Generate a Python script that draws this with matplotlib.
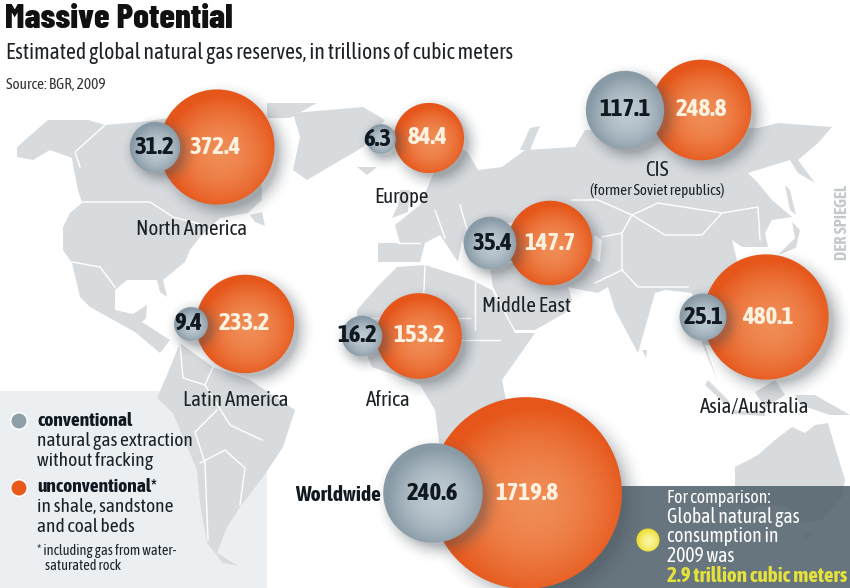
#!/usr/bin/python3
# -*- coding: utf-8 -*-
import numpy as np
import matplotlib
matplotlib.use('Agg')
import matplotlib.pyplot as pp
from matplotlib.patches import Polygon, Circle, Rectangle

pp.rcParams['font.family'] = ['Asap Condensed', 'Archivo Narrow', 'DejaVu Sans']

# data
regions = ['North America', 'Europe', 'CIS', 'Middle East', 'Latin America', 'Africa', 'Asia/Australia', 'Worldwide']
conventional = [31.2, 6.3, 117.1, 35.4, 9.4, 16.2, 25.1, 240.6]
unconventional = [372.4, 84.4, 248.8, 147.7, 233.2, 153.2, 480.1, 1719.8]

# layout, picture pixels
grey_xy = [(155, 147), (381, 139), (625, 110), (490, 243), (191, 324), (362, 336), (703, 317), (433, 493)]
orange_xy = [(217, 147), (429, 138), (701, 110), (550, 243), (245, 324), (419, 336), (766, 317), (526, 493)]
grey_text_x = [154, 377, 625, 493, 188, 357, 704, 432]
orange_text_x = [215, 428, 701, 550, 244, 419, 768, 527]
label_xy = [(192, 229), (401, 197), (657, 170), (527, 306), (236, 400), (388, 400), (755, 407), (381, 495)]

# map outlines
north_america = [(17, 147), (33, 133), (48, 120), (88, 120), (105, 125), (140, 122), (170, 118), (260, 150), (262, 200),
                 (248, 213), (220, 218), (200, 237), (190, 250), (185, 262), (163, 280), (167, 297), (160, 292), (157, 280),
                 (127, 280), (115, 290), (115, 310), (133, 314), (147, 305), (146, 318), (142, 322), (170, 340), (160, 353),
                 (135, 332), (90, 307), (80, 297), (72, 263), (63, 250), (63, 227), (70, 213), (82, 203), (78, 190), (73, 165),
                 (72, 158), (50, 150), (33, 160), (17, 157)]
arctic = [(267, 103), (317, 103), (290, 118), (267, 118)]
newfoundland = [(250, 215), (262, 212), (265, 226), (255, 222)]
greenland = [(293, 113), (363, 107), (385, 120), (363, 147), (307, 180), (293, 170), (300, 137)]
iceland = [(357, 167), (377, 167), (367, 175)]
south_america = [(180, 343), (213, 367), (250, 380), (295, 410), (283, 447), (263, 477), (240, 507), (227, 527), (217, 553),
                 (238, 566), (223, 563), (207, 543), (200, 503), (197, 470), (173, 413), (157, 398), (167, 375)]
africa = [(357, 330), (357, 310), (377, 287), (397, 267), (425, 265), (472, 280), (492, 290), (515, 333), (535, 333), (528, 343),
          (502, 380), (510, 420), (480, 480), (455, 490), (440, 450), (435, 410), (420, 385), (395, 375), (372, 367)]
eurasia = [(378, 262), (378, 243), (400, 243), (395, 225), (420, 205), (435, 170), (450, 140), (468, 153), (478, 170), (502, 167),
           (525, 150), (575, 147), (585, 130), (758, 128), (778, 123), (832, 127), (818, 143), (798, 160), (815, 183), (798, 173),
           (790, 160), (748, 173), (758, 183), (772, 200), (792, 217), (772, 220), (765, 233), (768, 247), (742, 247), (732, 240),
           (738, 265), (730, 300), (715, 320), (722, 345), (705, 345), (718, 382), (702, 343), (692, 293), (665, 290), (655, 293),
           (638, 353), (615, 310), (608, 287), (598, 293), (582, 290), (568, 287), (572, 300), (565, 313), (535, 330), (515, 330),
           (508, 317), (493, 287), (490, 268), (470, 262), (462, 240), (458, 262), (440, 235), (425, 243), (420, 262)]
uk = [(392, 218), (408, 212), (410, 190), (400, 190), (398, 205)]
novaya = [(520, 150), (530, 128), (540, 126), (530, 150)]
japan = [(778, 255), (795, 238), (792, 222), (800, 230), (796, 248)]
sakhalin = [(785, 185), (790, 190), (796, 215), (790, 210)]
sri_lanka = [(642, 350), (647, 350), (646, 358)]
sumatra = [(708, 380), (730, 402), (725, 404), (705, 385)]
borneo = [(755, 392), (775, 380), (785, 395), (765, 408)]
java = [(732, 410), (765, 412), (765, 416), (732, 414)]
new_guinea = [(795, 395), (815, 395), (850, 415), (830, 415), (800, 405)]
australia = [(735, 467), (758, 455), (775, 440), (792, 427), (805, 433), (815, 425), (828, 423), (835, 447), (845, 480),
             (842, 497), (822, 520), (802, 523), (788, 507), (765, 505), (745, 513), (735, 500)]
tasmania = [(802, 533), (812, 533), (806, 541)]
land = [north_america, arctic, newfoundland, greenland, iceland, south_america, africa, eurasia, uk, novaya, japan, sakhalin,
        sri_lanka, sumatra, borneo, java, new_guinea, australia, tasmania]

black_sea = [(480, 225), (515, 222), (510, 232), (485, 234)]
caspian = [(594, 235), (602, 240), (600, 262), (592, 258)]
water = [black_sea, caspian]

borders = [[(105, 125), (75, 152), (80, 167)], [(82, 202), (150, 202), (173, 217), (200, 224)],
           [(72, 262), (100, 267), (115, 287)], [(572, 200), (598, 200), (632, 215), (658, 203), (722, 213), (702, 235), (665, 235), (632, 215)],
           [(722, 213), (758, 207), (760, 240)], [(632, 215), (622, 233), (602, 237)], [(622, 233), (622, 270), (638, 287), (688, 287)],
           [(595, 283), (622, 270)], [(497, 262), (580, 262)], [(475, 282), (475, 330)], [(425, 265), (422, 340)], [(357, 318), (470, 318)],
           [(422, 340), (500, 340)], [(180, 345), (183, 378), (205, 385), (213, 367)], [(205, 385), (230, 425), (262, 440)],
           [(200, 463), (225, 450), (245, 468), (240, 505)], [(205, 463), (208, 540)], [(217, 410), (195, 432), (205, 463)],
           [(398, 243), (420, 243)], [(435, 210), (445, 238)], [(460, 205), (470, 240)]]

legend_lines = ['conventional', 'natural gas extraction', 'without fracking', 'unconventional*', 'in shale, sandstone', 'and coal beds']
comparison_lines = ['For comparison:', 'Global natural gas', 'consumption in', '2009 was']


def px(a):
    return a * 0.72


def radius(v):
    # sphere volumes: the radius goes with the cube root
    return 8.0 * v ** (1 / 3)


def shadow(ax, cx, cy, r, zo):
    off = 3 + r * 0.07
    blur = 14 + r * 0.12
    R = int(r + off + blur + 2)
    x0, y0 = int(cx) - R, int(cy) - R
    yy, xx = np.mgrid[0:2 * R, 0:2 * R]
    d = np.hypot(xx + x0 + .5 - cx - off, yy + y0 + .5 - cy - off) - r * 0.92
    a = 0.38 * np.clip(1 - d / blur, 0, 1) ** 2
    rgba = np.zeros((2 * R, 2 * R, 4))
    rgba[..., :3] = np.array([70, 80, 88]) / 255
    rgba[..., 3] = a
    ax.imshow(rgba, extent=(x0, x0 + 2 * R, y0 + 2 * R, y0), origin='upper', interpolation='nearest', aspect='auto', zorder=zo)


def sphere(ax, cx, cy, r, mid, edge, zo):
    R = int(r) + 2
    x0, y0 = int(cx) - R, int(cy) - R
    yy, xx = np.mgrid[0:2 * R, 0:2 * R]
    xp = xx + x0 + .5
    yp = yy + y0 + .5
    d = np.hypot(xp - cx, yp - cy)
    t = np.clip(np.hypot(xp - cx - r * .08, yp - cy - r * .1) / r, 0, 1) ** 1.8
    rgba = np.zeros((2 * R, 2 * R, 4))
    for i in range(3):
        rgba[..., i] = (mid[i] * (1 - t) + edge[i] * t) / 255
    rgba[..., 3] = np.clip(r - d + .5, 0, 1)
    ax.imshow(rgba, extent=(x0, x0 + 2 * R, y0 + 2 * R, y0), origin='upper', interpolation='nearest', aspect='auto', zorder=zo)


fig = pp.figure(figsize=(8.5, 5.88), dpi=100)
ax = fig.add_axes([0, 0, 1, 1])
ax.axis('off')

ax.add_patch(Rectangle((0, 391), 267, 197, color='#ebeff2', lw=0, zorder=1))

for poly in land:
    ax.add_patch(Polygon(poly, closed=True, fc='#d8dbde', ec='none', zorder=2))
for poly in water:
    ax.add_patch(Polygon(poly, closed=True, fc='white', ec='none', zorder=3))
for line in borders:
    xs, ys = zip(*line)
    ax.plot(xs, ys, color='white', lw=1.0, zorder=3)

ax.add_patch(Rectangle((530, 486), 320, 102, color='#4c5d67', alpha=0.85, lw=0, zorder=4))

ORANGE_MID, ORANGE_EDGE = (240, 140, 85), (230, 86, 26)
GREY_MID, GREY_EDGE = (190, 202, 210), (136, 154, 166)
zo = 5
for i in range(len(regions)):
    ox, oy = orange_xy[i]
    gx, gy = grey_xy[i]
    r_o = radius(unconventional[i])
    r_g = radius(conventional[i])
    shadow(ax, ox, oy, r_o, zo)
    sphere(ax, ox, oy, r_o, ORANGE_MID, ORANGE_EDGE, zo + 1)
    shadow(ax, gx, gy, r_g, zo + 2)
    sphere(ax, gx, gy, r_g, GREY_MID, GREY_EDGE, zo + 3)
    ax.text(grey_text_x[i], gy, '%.1f' % conventional[i], ha='center', va='center', color='#101820',
            fontsize=px(25), fontweight='bold', zorder=20)
    ax.text(orange_text_x[i], oy, '%.1f' % unconventional[i], ha='center', va='center', color='#fdf1e0',
            fontsize=px(25), fontweight='bold', zorder=20)
    if regions[i] == 'Worldwide':
        ax.text(label_xy[i][0], label_xy[i][1], regions[i], ha='right', va='center', color='#101820',
                fontsize=px(21.5), fontweight='bold', zorder=20)
    else:
        ax.text(label_xy[i][0], label_xy[i][1], regions[i], ha='center', va='center', color='#1c2226',
                fontsize=px(21), zorder=20)
ax.text(657, 190, '(former Soviet republics)', ha='center', va='center', color='#1c2226', fontsize=px(15), zorder=20)

# headline
ax.text(5, 19, 'Massive Potential', ha='left', va='center', color='#111111', fontsize=px(35), fontweight=800,
        family=['Barlow Condensed', 'Asap Condensed', 'DejaVu Sans'], zorder=20)
ax.text(6, 53, 'Estimated global natural gas reserves, in trillions of cubic meters', ha='left', va='center',
        color='#1c2226', fontsize=px(21.6), zorder=20)
ax.text(6, 85, 'Source: BGR, 2009', ha='left', va='center', color='#333333', fontsize=px(15.3), zorder=20)
ax.text(842, 222, 'DER SPIEGEL', rotation=90, ha='center', va='center', color='#c4c9cc', fontsize=px(16.5), fontweight='bold', zorder=20)

# legend
ax.add_patch(Circle((19, 421), 9, fc='white', ec='none', zorder=6))
ax.add_patch(Circle((19, 421), 7.5, fc='#8f9fa8', ec='none', zorder=7))
ax.add_patch(Circle((19, 488), 9, fc='white', ec='none', zorder=6))
ax.add_patch(Circle((19, 488), 7.5, fc='#e8591c', ec='none', zorder=7))
leg_x = 37
for n, txt in enumerate(legend_lines):
    head = n % 3 == 0
    ax.text(leg_x, [421, 441, 461, 487, 507, 527][n], txt, va='center', color='#101820' if head else '#1c2226',
            fontsize=px(19.5), fontweight='bold' if head else 'normal', zorder=20)
ax.text(leg_x, 551, '* including gas from water-', va='center', color='#1c2226', fontsize=px(14.4), zorder=20)
ax.text(45, 566, 'saturated rock', va='center', color='#1c2226', fontsize=px(14.4), zorder=20)

# comparison box
sphere(ax, 648, 540, 11.5, (250, 245, 160), (238, 222, 50), 20)
for n, txt in enumerate(comparison_lines):
    size = 17.8 if n == 0 else 19.7
    ax.text(667, [498, 517, 536, 556][n], txt, va='center', color='white', fontsize=px(size), zorder=20)
ax.text(667, 576, '2.9 trillion cubic meters', va='center', color='#e6e23c', fontsize=px(21), fontweight='bold', zorder=20)

ax.set_xlim(0, 850)
ax.set_ylim(588, 0)
fig.savefig('out.png', dpi=100)
